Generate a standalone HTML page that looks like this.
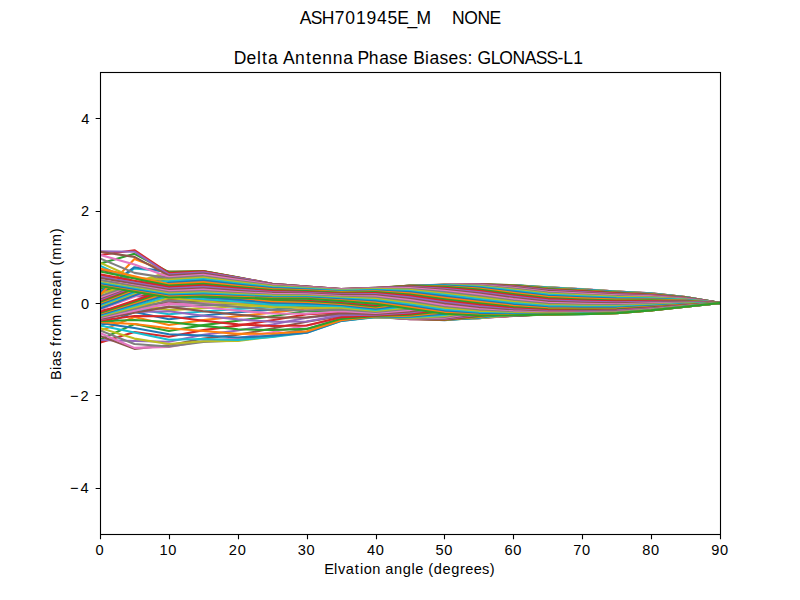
<!DOCTYPE html>
<html><head><meta charset="utf-8"><style>html,body{margin:0;padding:0;background:#fff}svg{display:block}text{font-family:"Liberation Sans",sans-serif;white-space:pre}</style></head>
<body><svg width="800" height="600" viewBox="0 0 800 600">
<rect width="800" height="600" fill="#fff"/><defs><clipPath id="ax"><rect x="100" y="72" width="620.5" height="462.5"/></clipPath></defs><g clip-path="url(#ax)" fill="none" stroke-width="2.08" stroke-linejoin="round" stroke-linecap="square"><polyline points="100.00,286.00 134.44,291.72 168.89,297.44 203.33,296.53 237.78,297.67 272.22,298.70 306.67,298.83 341.11,301.00 375.56,303.83 410.00,308.76 444.44,313.74 478.89,315.57 513.33,315.41 547.78,314.54 582.22,314.09 616.67,313.16 651.11,310.39 685.56,306.70 720.00,303.00" stroke="#1f77b4"/><polyline points="100.00,287.80 134.44,293.04 168.89,298.29 203.33,297.45 237.78,298.39 272.22,299.35 306.67,299.45 341.11,301.80 375.56,305.11 410.00,310.09 444.44,314.88 478.89,316.31 513.33,315.70 547.78,314.54 582.22,314.04 616.67,313.12 651.11,310.36 685.56,306.68 720.00,303.00" stroke="#ff7f0e"/><polyline points="100.00,288.00 134.44,293.57 168.89,299.14 203.33,298.37 237.78,299.10 272.22,299.96 306.67,300.04 341.11,302.58 375.56,306.36 410.00,311.37 444.44,315.93 478.89,316.94 513.33,315.88 547.78,314.43 582.22,313.90 616.67,313.00 651.11,310.26 685.56,306.62 720.00,303.00" stroke="#2ca02c"/><polyline points="100.00,290.00 134.44,295.03 168.89,300.06 203.33,299.33 237.78,299.81 272.22,300.56 306.67,300.58 341.11,303.33 375.56,307.59 410.00,312.57 444.44,316.88 478.89,317.45 513.33,315.94 547.78,314.23 582.22,313.66 616.67,312.79 651.11,310.10 685.56,306.53 720.00,303.00" stroke="#d62728"/><polyline points="100.00,290.20 134.44,295.68 168.89,301.15 203.33,300.40 237.78,300.59 272.22,301.19 306.67,301.11 341.11,304.06 375.56,308.79 410.00,313.70 444.44,317.71 478.89,317.84 513.33,315.88 547.78,313.92 582.22,313.34 616.67,312.51 651.11,309.88 685.56,306.40 720.00,303.00" stroke="#9467bd"/><polyline points="100.00,310.30 134.44,306.42 168.89,302.55 203.33,301.70 237.78,301.52 272.22,301.89 306.67,301.64 341.11,304.77 375.56,309.93 410.00,314.74 444.44,318.43 478.89,318.10 513.33,315.70 547.78,313.51 582.22,312.92 616.67,312.15 651.11,309.59 685.56,306.24 720.00,303.00" stroke="#8c564b"/><polyline points="100.00,312.00 134.44,308.20 168.89,304.40 203.33,303.34 237.78,302.70 272.22,302.75 306.67,302.21 341.11,305.47 375.56,311.02 410.00,315.69 444.44,319.02 478.89,318.23 513.33,315.41 547.78,313.01 582.22,312.42 616.67,311.71 651.11,309.25 685.56,306.05 720.00,303.00" stroke="#e377c2"/><polyline points="100.00,315.00 134.44,310.94 168.89,306.88 203.33,305.45 237.78,304.26 272.22,303.84 306.67,302.88 341.11,306.19 375.56,312.04 410.00,316.53 444.44,319.49 478.89,318.23 513.33,315.00 547.78,312.42 582.22,311.83 616.67,311.20 651.11,308.85 685.56,305.82 720.00,303.00" stroke="#7f7f7f"/><polyline points="100.00,318.00 134.44,304.50 168.89,310.15 203.33,308.15 237.78,306.31 272.22,305.29 306.67,303.73 341.11,306.95 375.56,312.99 410.00,317.26 444.44,319.82 478.89,318.10 513.33,314.49 547.78,311.73 582.22,311.17 616.67,310.62 651.11,308.39 685.56,305.56 720.00,303.00" stroke="#bcbd22"/><polyline points="100.00,322.00 134.44,308.60 168.89,314.30 203.33,311.51 237.78,308.97 272.22,307.18 306.67,304.86 341.11,307.80 375.56,313.86 410.00,317.89 444.44,320.03 478.89,317.84 513.33,313.86 547.78,310.97 582.22,310.43 616.67,309.98 651.11,307.89 685.56,305.28 720.00,303.00" stroke="#17becf"/><polyline points="100.00,326.00 134.44,312.00 168.89,319.30 203.33,315.54 237.78,312.30 272.22,309.62 306.67,306.39 341.11,308.77 375.56,314.65 410.00,318.39 444.44,320.09 478.89,317.45 513.33,313.14 547.78,310.13 582.22,309.63 616.67,309.29 651.11,307.34 685.56,304.96 720.00,303.00" stroke="#1f77b4"/><polyline points="100.00,331.00 134.44,317.00 168.89,324.97 203.33,320.15 237.78,316.28 272.22,312.65 306.67,308.41 341.11,309.92 375.56,315.34 410.00,318.77 444.44,320.03 478.89,316.94 513.33,312.32 547.78,309.22 582.22,308.77 616.67,308.53 651.11,306.75 685.56,304.63 720.00,303.00" stroke="#ff7f0e"/><polyline points="100.00,339.67 134.44,324.00 168.89,330.95 203.33,325.12 237.78,320.80 272.22,316.23 306.67,311.00 341.11,311.27 375.56,315.94 410.00,319.03 444.44,319.82 478.89,316.31 513.33,311.40 547.78,308.24 582.22,307.85 616.67,307.74 651.11,306.12 685.56,304.27 720.00,303.00" stroke="#2ca02c"/><polyline points="100.00,342.67 134.44,332.00 168.89,336.72 203.33,330.11 237.78,325.63 272.22,320.24 306.67,314.16 341.11,312.82 375.56,316.43 410.00,319.15 444.44,319.49 478.89,315.57 513.33,310.41 547.78,307.21 582.22,306.89 616.67,306.90 651.11,305.46 685.56,303.90 720.00,303.00" stroke="#d62728"/><polyline points="100.00,340.00 134.44,341.00 168.89,341.68 203.33,334.71 237.78,330.42 272.22,324.47 306.67,317.80 341.11,314.52 375.56,316.82 410.00,319.15 444.44,319.02 478.89,314.71 513.33,309.34 547.78,306.14 582.22,305.88 616.67,306.02 651.11,304.77 685.56,303.50 720.00,303.00" stroke="#9467bd"/><polyline points="100.00,336.00 134.44,348.90 168.89,345.23 203.33,338.48 237.78,334.75 272.22,328.59 306.67,321.70 341.11,316.29 375.56,317.10 410.00,319.03 444.44,318.43 478.89,313.76 513.33,308.20 547.78,305.02 582.22,304.84 616.67,305.12 651.11,304.06 685.56,303.10 720.00,303.00" stroke="#8c564b"/><polyline points="100.00,333.00 134.44,347.90 168.89,346.90 203.33,341.00 237.78,338.18 272.22,332.23 306.67,325.54 341.11,317.99 375.56,317.27 410.00,318.77 444.44,317.71 478.89,312.70 513.33,307.00 547.78,303.87 582.22,303.78 616.67,304.19 651.11,303.33 685.56,302.69 720.00,303.00" stroke="#e377c2"/><polyline points="100.00,330.50 134.44,344.00 168.89,346.48 203.33,341.99 237.78,340.35 272.22,335.02 306.67,328.93 341.11,319.45 375.56,317.32 410.00,318.39 444.44,316.88 478.89,311.56 513.33,305.75 547.78,302.70 582.22,302.70 616.67,303.25 651.11,302.59 685.56,302.27 720.00,303.00" stroke="#7f7f7f"/><polyline points="100.00,328.00 134.44,338.60 168.89,343.99 203.33,341.33 237.78,340.99 272.22,336.66 306.67,331.46 341.11,320.50 375.56,317.27 410.00,317.89 444.44,315.93 478.89,310.34 513.33,304.46 547.78,301.52 582.22,301.61 616.67,302.31 651.11,301.85 685.56,301.85 720.00,303.00" stroke="#bcbd22"/><polyline points="100.00,325.50 134.44,332.40 168.89,339.77 203.33,339.08 237.78,340.03 272.22,336.94 306.67,332.83 341.11,321.00 375.56,317.10 410.00,317.26 444.44,314.88 478.89,309.05 513.33,303.15 547.78,300.33 582.22,300.53 616.67,301.36 651.11,301.10 685.56,301.42 720.00,303.00" stroke="#17becf"/><polyline points="100.00,323.00 134.44,328.00 168.89,334.31 203.33,335.49 237.78,337.56 272.22,335.83 306.67,332.82 341.11,320.88 375.56,316.82 410.00,316.53 444.44,313.74 478.89,307.69 513.33,301.81 547.78,299.14 582.22,299.45 616.67,300.42 651.11,300.36 685.56,301.00 720.00,303.00" stroke="#1f77b4"/><polyline points="100.00,322.17 134.44,324.00 168.89,328.21 203.33,330.94 237.78,333.87 272.22,333.45 306.67,331.46 341.11,320.14 375.56,316.43 410.00,315.69 444.44,312.51 478.89,306.29 513.33,300.46 547.78,297.97 582.22,298.39 616.67,299.50 651.11,299.63 685.56,300.59 720.00,303.00" stroke="#ff7f0e"/><polyline points="100.00,321.33 134.44,320.00 168.89,322.05 203.33,325.85 237.78,329.33 272.22,330.07 306.67,328.90 341.11,318.85 375.56,315.94 410.00,314.74 444.44,311.20 478.89,304.85 513.33,299.11 547.78,296.82 582.22,297.35 616.67,298.59 651.11,298.92 685.56,300.19 720.00,303.00" stroke="#2ca02c"/><polyline points="100.00,320.50 134.44,316.00 168.89,316.28 203.33,320.66 237.78,324.37 272.22,326.03 306.67,325.48 341.11,317.15 375.56,315.34 410.00,313.70 444.44,309.82 478.89,303.38 513.33,297.77 547.78,295.71 582.22,296.34 616.67,297.72 651.11,298.23 685.56,299.79 720.00,303.00" stroke="#d62728"/><polyline points="100.00,319.67 134.44,312.00 168.89,311.18 203.33,315.69 237.78,319.38 272.22,321.71 306.67,321.57 341.11,315.20 375.56,314.65 410.00,312.57 444.44,308.39 478.89,301.90 513.33,296.45 547.78,294.63 582.22,295.38 616.67,296.88 651.11,297.57 685.56,299.42 720.00,303.00" stroke="#9467bd"/><polyline points="100.00,318.83 134.44,312.85 168.89,306.86 203.33,311.20 237.78,314.69 272.22,317.45 306.67,317.56 341.11,313.17 375.56,313.86 410.00,311.37 444.44,306.91 478.89,300.41 513.33,295.17 547.78,293.60 582.22,294.46 616.67,296.08 651.11,296.94 685.56,299.06 720.00,303.00" stroke="#8c564b"/><polyline points="100.00,318.00 134.44,310.65 168.89,303.31 203.33,307.30 237.78,310.51 272.22,313.49 306.67,313.78 341.11,311.20 375.56,312.99 410.00,310.09 444.44,305.40 478.89,298.92 513.33,293.92 547.78,292.62 582.22,293.60 616.67,295.33 651.11,296.35 685.56,298.73 720.00,303.00" stroke="#e377c2"/><polyline points="100.00,317.14 134.44,308.77 168.89,300.40 203.33,304.00 237.78,306.93 272.22,310.02 306.67,310.43 341.11,309.38 375.56,312.04 410.00,308.76 444.44,303.86 478.89,297.45 513.33,292.72 547.78,291.71 582.22,292.79 616.67,294.63 651.11,295.80 685.56,298.41 720.00,303.00" stroke="#7f7f7f"/><polyline points="100.00,316.29 134.44,307.13 168.89,297.98 203.33,301.25 237.78,303.94 272.22,307.09 306.67,307.61 341.11,307.76 375.56,311.02 410.00,307.38 444.44,302.31 478.89,296.01 513.33,291.58 547.78,290.87 582.22,292.06 616.67,293.99 651.11,295.30 685.56,298.13 720.00,303.00" stroke="#bcbd22"/><polyline points="100.00,315.43 134.44,305.67 168.89,295.91 203.33,298.94 237.78,301.49 272.22,304.68 306.67,305.32 341.11,306.32 375.56,309.93 410.00,305.96 444.44,300.76 478.89,294.61 513.33,290.51 547.78,290.11 582.22,291.40 616.67,293.41 651.11,294.84 685.56,297.87 720.00,303.00" stroke="#17becf"/><polyline points="100.00,314.57 134.44,304.30 168.89,294.04 203.33,296.96 237.78,299.46 272.22,302.73 306.67,303.49 341.11,305.06 375.56,308.79 410.00,304.51 444.44,299.22 478.89,293.26 513.33,289.52 547.78,289.43 582.22,290.81 616.67,292.90 651.11,294.44 685.56,297.64 720.00,303.00" stroke="#1f77b4"/><polyline points="100.00,313.71 134.44,303.00 168.89,292.28 203.33,295.19 237.78,297.74 272.22,301.14 306.67,302.01 341.11,303.94 375.56,307.59 410.00,303.04 444.44,297.70 478.89,291.97 513.33,288.60 547.78,288.83 582.22,290.31 616.67,292.47 651.11,294.10 685.56,297.45 720.00,303.00" stroke="#ff7f0e"/><polyline points="100.00,312.86 134.44,301.72 168.89,290.58 203.33,293.54 237.78,296.22 272.22,299.80 306.67,300.80 341.11,302.90 375.56,306.36 410.00,301.57 444.44,296.22 478.89,290.75 513.33,287.78 547.78,288.33 582.22,289.89 616.67,292.10 651.11,293.81 685.56,297.29 720.00,303.00" stroke="#2ca02c"/><polyline points="100.00,312.00 134.44,300.44 168.89,288.89 203.33,291.96 237.78,294.83 272.22,298.64 306.67,299.74 341.11,301.92 375.56,305.11 410.00,300.11 444.44,294.79 478.89,289.60 513.33,287.06 547.78,287.92 582.22,289.57 616.67,291.82 651.11,293.59 685.56,297.16 720.00,303.00" stroke="#d62728"/><polyline points="100.00,276.00 134.44,281.60 168.89,287.21 203.33,290.39 237.78,293.50 272.22,297.58 306.67,298.78 341.11,300.97 375.56,303.83 410.00,298.66 444.44,293.41 478.89,288.55 513.33,286.43 547.78,287.62 582.22,289.33 616.67,291.61 651.11,293.43 685.56,297.07 720.00,303.00" stroke="#9467bd"/><polyline points="100.00,269.80 134.44,277.67 168.89,285.54 203.33,288.82 237.78,292.19 272.22,296.57 306.67,297.85 341.11,300.04 375.56,302.54 410.00,297.24 444.44,292.10 478.89,287.59 513.33,285.92 547.78,287.41 582.22,289.19 616.67,291.49 651.11,293.33 685.56,297.01 720.00,303.00" stroke="#8c564b"/><polyline points="100.00,309.71 134.44,296.81 168.89,283.90 203.33,287.24 237.78,290.89 272.22,295.58 306.67,296.95 341.11,299.11 375.56,301.25 410.00,295.85 444.44,290.87 478.89,286.74 513.33,285.51 547.78,287.30 582.22,289.14 616.67,291.45 651.11,293.30 685.56,296.99 720.00,303.00" stroke="#e377c2"/><polyline points="100.00,307.43 134.44,294.86 168.89,282.29 203.33,285.66 237.78,289.60 272.22,294.59 306.67,296.04 341.11,298.18 375.56,299.97 410.00,294.52 444.44,289.73 478.89,285.99 513.33,285.22 547.78,287.30 582.22,289.19 616.67,291.49 651.11,293.33 685.56,297.01 720.00,303.00" stroke="#7f7f7f"/><polyline points="100.00,306.33 134.44,293.54 168.89,280.74 203.33,284.08 237.78,288.30 272.22,293.59 306.67,295.14 341.11,297.27 375.56,298.71 410.00,293.25 444.44,288.68 478.89,285.36 513.33,285.04 547.78,287.41 582.22,289.33 616.67,291.61 651.11,293.43 685.56,297.07 720.00,303.00" stroke="#bcbd22"/><polyline points="100.00,305.14 134.44,292.21 168.89,279.27 203.33,282.52 237.78,287.02 272.22,292.60 306.67,294.24 341.11,296.37 375.56,297.48 410.00,292.04 444.44,287.74 478.89,284.85 513.33,284.98 547.78,287.62 582.22,289.57 616.67,291.82 651.11,293.59 685.56,297.16 720.00,303.00" stroke="#17becf"/><polyline points="100.00,304.07 134.44,290.98 168.89,277.90 203.33,281.01 237.78,285.77 272.22,291.61 306.67,293.35 341.11,295.48 375.56,296.29 410.00,290.91 444.44,286.90 478.89,284.46 513.33,285.04 547.78,287.92 582.22,289.89 616.67,292.10 651.11,293.81 685.56,297.29 720.00,303.00" stroke="#1f77b4"/><polyline points="100.00,302.86 134.44,289.74 168.89,276.63 203.33,279.55 237.78,284.56 272.22,290.64 306.67,292.48 341.11,294.63 375.56,295.15 410.00,289.87 444.44,286.19 478.89,284.20 513.33,285.22 547.78,288.33 582.22,290.31 616.67,292.47 651.11,294.10 685.56,297.45 720.00,303.00" stroke="#ff7f0e"/><polyline points="100.00,301.80 134.44,288.64 168.89,275.49 203.33,278.17 237.78,283.40 272.22,289.70 306.67,291.64 341.11,293.82 375.56,294.06 410.00,288.93 444.44,285.59 478.89,284.07 513.33,285.51 547.78,288.83 582.22,290.81 616.67,292.90 651.11,294.44 685.56,297.64 720.00,303.00" stroke="#2ca02c"/><polyline points="100.00,300.57 134.44,287.53 168.89,274.48 203.33,276.87 237.78,282.32 272.22,288.79 306.67,290.84 341.11,293.05 375.56,293.04 410.00,288.08 444.44,285.13 478.89,284.07 513.33,285.92 547.78,289.43 582.22,291.40 616.67,293.41 651.11,294.84 685.56,297.87 720.00,303.00" stroke="#d62728"/><polyline points="100.00,299.53 134.44,286.58 168.89,273.62 203.33,275.69 237.78,281.32 272.22,287.93 306.67,290.09 341.11,292.33 375.56,292.08 410.00,287.35 444.44,284.79 478.89,284.20 513.33,286.43 547.78,290.11 582.22,292.06 616.67,293.99 651.11,295.30 685.56,298.13 720.00,303.00" stroke="#9467bd"/><polyline points="100.00,298.29 134.44,285.60 168.89,272.91 203.33,274.62 237.78,280.42 272.22,287.14 306.67,289.39 341.11,291.66 375.56,291.21 410.00,286.73 444.44,284.59 478.89,284.46 513.33,287.06 547.78,290.87 582.22,292.79 616.67,294.63 651.11,295.80 685.56,298.41 720.00,303.00" stroke="#8c564b"/><polyline points="100.00,297.27 134.44,284.81 168.89,272.35 203.33,273.68 237.78,279.62 272.22,286.41 306.67,288.77 341.11,291.07 375.56,290.43 410.00,286.22 444.44,284.52 478.89,284.85 513.33,287.78 547.78,291.71 582.22,293.60 616.67,295.33 651.11,296.35 685.56,298.73 720.00,303.00" stroke="#e377c2"/><polyline points="100.00,296.00 134.44,283.98 168.89,271.95 203.33,272.88 237.78,278.93 272.22,285.75 306.67,288.21 341.11,290.54 375.56,289.73 410.00,285.84 444.44,284.59 478.89,285.36 513.33,288.60 547.78,292.62 582.22,294.46 616.67,296.08 651.11,296.94 685.56,299.06 720.00,303.00" stroke="#7f7f7f"/><polyline points="100.00,294.00 134.44,282.85 168.89,271.71 203.33,272.22 237.78,278.37 272.22,285.18 306.67,287.73 341.11,290.08 375.56,289.14 410.00,285.59 444.44,284.79 478.89,285.99 513.33,289.52 547.78,293.60 582.22,295.38 616.67,296.88 651.11,297.57 685.56,299.42 720.00,303.00" stroke="#bcbd22"/><polyline points="100.00,292.00 134.44,268.50 168.89,271.61 203.33,271.72 237.78,277.93 272.22,284.70 306.67,287.33 341.11,289.71 375.56,288.65 410.00,285.46 444.44,285.13 478.89,286.74 513.33,290.51 547.78,294.63 582.22,296.34 616.67,297.72 651.11,298.23 685.56,299.79 720.00,303.00" stroke="#17becf"/><polyline points="100.00,292.60 134.44,267.20 168.89,271.67 203.33,271.37 237.78,277.62 272.22,284.31 306.67,287.02 341.11,289.41 375.56,288.26 410.00,285.46 444.44,285.59 478.89,287.59 513.33,291.58 547.78,295.71 582.22,297.35 616.67,298.59 651.11,298.92 685.56,300.19 720.00,303.00" stroke="#1f77b4"/><polyline points="100.00,295.00 134.44,259.00 168.89,271.86 203.33,271.17 237.78,277.43 272.22,284.02 306.67,286.78 341.11,289.19 375.56,287.98 410.00,285.59 444.44,286.19 478.89,288.55 513.33,292.72 547.78,296.82 582.22,298.39 616.67,299.50 651.11,299.63 685.56,300.59 720.00,303.00" stroke="#ff7f0e"/><polyline points="100.00,263.60 134.44,253.80 168.89,272.19 203.33,271.11 237.78,277.38 272.22,283.82 306.67,286.63 341.11,289.05 375.56,287.81 410.00,285.84 444.44,286.90 478.89,289.60 513.33,293.92 547.78,297.97 582.22,299.45 616.67,300.42 651.11,300.36 685.56,301.00 720.00,303.00" stroke="#2ca02c"/><polyline points="100.00,255.00 134.44,250.20 168.89,273.11 203.33,271.21 237.78,277.45 272.22,283.72 306.67,286.56 341.11,289.00 375.56,287.75 410.00,286.22 444.44,287.74 478.89,290.75 513.33,295.17 547.78,299.14 582.22,300.53 616.67,301.36 651.11,301.10 685.56,301.42 720.00,303.00" stroke="#d62728"/><polyline points="100.00,251.20 134.44,251.70 168.89,274.31 203.33,272.25 237.78,277.71 272.22,283.71 306.67,286.57 341.11,289.03 375.56,287.81 410.00,286.73 444.44,288.68 478.89,291.97 513.33,296.45 547.78,300.33 582.22,301.61 616.67,302.31 651.11,301.85 685.56,301.85 720.00,303.00" stroke="#9467bd"/><polyline points="100.00,251.80 134.44,256.90 168.89,275.59 203.33,273.47 237.78,278.71 272.22,283.97 306.67,286.65 341.11,289.13 375.56,287.98 410.00,287.35 444.44,289.73 478.89,293.26 513.33,297.77 547.78,301.52 582.22,302.70 616.67,303.25 651.11,302.59 685.56,302.27 720.00,303.00" stroke="#8c564b"/><polyline points="100.00,254.80 134.44,264.60 168.89,276.92 203.33,274.78 237.78,279.78 272.22,284.69 306.67,287.00 341.11,289.40 375.56,288.26 410.00,288.08 444.44,290.87 478.89,294.61 513.33,299.11 547.78,302.70 582.22,303.78 616.67,304.19 651.11,303.33 685.56,302.69 720.00,303.00" stroke="#e377c2"/><polyline points="100.00,258.40 134.44,272.90 168.89,278.31 203.33,276.16 237.78,280.92 272.22,285.47 306.67,287.59 341.11,289.81 375.56,288.65 410.00,288.93 444.44,292.10 478.89,296.01 513.33,300.46 547.78,303.87 582.22,304.84 616.67,305.12 651.11,304.06 685.56,303.10 720.00,303.00" stroke="#7f7f7f"/><polyline points="100.00,262.60 134.44,278.00 168.89,279.74 203.33,277.60 237.78,282.10 272.22,286.31 306.67,288.22 341.11,290.29 375.56,289.14 410.00,289.87 444.44,293.41 478.89,297.45 513.33,301.81 547.78,305.02 582.22,305.88 616.67,306.02 651.11,304.77 685.56,303.50 720.00,303.00" stroke="#bcbd22"/><polyline points="100.00,265.70 134.44,282.00 168.89,281.20 203.33,279.08 237.78,283.33 272.22,287.19 306.67,288.90 341.11,290.83 375.56,289.73 410.00,290.91 444.44,294.79 478.89,298.92 513.33,303.15 547.78,306.14 582.22,306.89 616.67,306.90 651.11,305.46 685.56,303.90 720.00,303.00" stroke="#17becf"/><polyline points="100.00,308.60 134.44,295.64 168.89,282.67 203.33,280.60 237.78,284.58 272.22,288.10 306.67,289.62 341.11,291.43 375.56,290.43 410.00,292.04 444.44,296.22 478.89,300.41 513.33,304.46 547.78,307.21 582.22,307.85 616.67,307.74 651.11,306.12 685.56,304.27 720.00,303.00" stroke="#1f77b4"/><polyline points="100.00,268.58 134.44,276.36 168.89,284.15 203.33,282.14 237.78,285.84 272.22,289.05 306.67,290.38 341.11,292.08 375.56,291.21 410.00,293.25 444.44,297.70 478.89,301.90 513.33,305.75 547.78,308.24 582.22,308.77 616.67,308.53 651.11,306.75 685.56,304.63 720.00,303.00" stroke="#ff7f0e"/><polyline points="100.00,271.47 134.44,278.54 168.89,285.61 203.33,283.68 237.78,287.12 272.22,290.01 306.67,291.16 341.11,292.78 375.56,292.08 410.00,294.52 444.44,299.22 478.89,303.38 513.33,307.00 547.78,309.22 582.22,309.63 616.67,309.29 651.11,307.34 685.56,304.96 720.00,303.00" stroke="#2ca02c"/><polyline points="100.00,274.35 134.44,280.70 168.89,287.05 203.33,285.20 237.78,288.38 272.22,290.98 306.67,291.95 341.11,293.52 375.56,293.04 410.00,295.85 444.44,300.76 478.89,304.85 513.33,308.20 547.78,310.13 582.22,310.43 616.67,309.98 651.11,307.89 685.56,305.28 720.00,303.00" stroke="#d62728"/><polyline points="100.00,277.23 134.44,282.85 168.89,288.46 203.33,286.70 237.78,289.62 272.22,291.95 306.67,292.76 341.11,294.29 375.56,294.06 410.00,297.24 444.44,302.31 478.89,306.29 513.33,309.34 547.78,310.97 582.22,311.17 616.67,310.62 651.11,308.39 685.56,305.56 720.00,303.00" stroke="#9467bd"/><polyline points="100.00,278.00 134.44,283.91 168.89,289.82 203.33,288.17 237.78,290.82 272.22,292.91 306.67,293.58 341.11,295.10 375.56,295.15 410.00,298.66 444.44,303.86 478.89,307.69 513.33,310.41 547.78,311.73 582.22,311.83 616.67,311.20 651.11,308.85 685.56,305.82 720.00,303.00" stroke="#8c564b"/><polyline points="100.00,280.00 134.44,285.56 168.89,291.12 203.33,289.58 237.78,291.99 272.22,293.85 306.67,294.39 341.11,295.93 375.56,296.29 410.00,300.11 444.44,305.40 478.89,309.05 513.33,311.40 547.78,312.42 582.22,312.42 616.67,311.71 651.11,309.25 685.56,306.05 720.00,303.00" stroke="#e377c2"/><polyline points="100.00,280.12 134.44,286.24 168.89,292.35 203.33,290.92 237.78,293.10 272.22,294.77 306.67,295.19 341.11,296.77 375.56,297.48 410.00,301.57 444.44,306.91 478.89,310.34 513.33,312.32 547.78,313.01 582.22,312.92 616.67,312.15 651.11,309.59 685.56,306.24 720.00,303.00" stroke="#7f7f7f"/><polyline points="100.00,282.00 134.44,287.76 168.89,293.52 203.33,292.20 237.78,294.15 272.22,295.65 306.67,295.98 341.11,297.62 375.56,298.71 410.00,303.04 444.44,308.39 478.89,311.56 513.33,313.14 547.78,313.51 582.22,313.34 616.67,312.51 651.11,309.88 685.56,306.40 720.00,303.00" stroke="#bcbd22"/><polyline points="100.00,283.00 134.44,288.80 168.89,294.61 203.33,293.40 237.78,295.13 272.22,296.48 306.67,296.74 341.11,298.48 375.56,299.97 410.00,304.51 444.44,309.82 478.89,312.70 513.33,313.86 547.78,313.92 582.22,313.66 616.67,312.79 651.11,310.10 685.56,306.53 720.00,303.00" stroke="#17becf"/><polyline points="100.00,284.00 134.44,289.81 168.89,295.62 203.33,294.52 237.78,296.05 272.22,297.27 306.67,297.48 341.11,299.33 375.56,301.25 410.00,305.96 444.44,311.20 478.89,313.76 513.33,314.49 547.78,314.23 582.22,313.90 616.67,313.00 651.11,310.26 685.56,306.62 720.00,303.00" stroke="#1f77b4"/><polyline points="100.00,285.40 134.44,290.98 168.89,296.56 203.33,295.56 237.78,296.89 272.22,298.01 306.67,298.17 341.11,300.17 375.56,302.54 410.00,307.38 444.44,312.51 478.89,314.71 513.33,315.00 547.78,314.43 582.22,314.04 616.67,313.12 651.11,310.36 685.56,306.68 720.00,303.00" stroke="#ff7f0e"/><polyline points="100.00,286.00 134.44,291.72 168.89,297.44 203.33,296.53 237.78,297.67 272.22,298.70 306.67,298.83 341.11,301.00 375.56,303.83 410.00,308.76 444.44,313.74 478.89,315.57 513.33,315.41 547.78,314.54 582.22,314.09 616.67,313.16 651.11,310.39 685.56,306.70 720.00,303.00" stroke="#2ca02c"/></g><rect x="100.5" y="72.5" width="620.0" height="462.0" fill="none" stroke="#000" stroke-width="1.11" stroke-linejoin="miter"/><path d="M100.50,534.5v4.86 M169.50,534.5v4.86 M238.50,534.5v4.86 M307.50,534.5v4.86 M376.50,534.5v4.86 M444.50,534.5v4.86 M513.50,534.5v4.86 M582.50,534.5v4.86 M651.50,534.5v4.86 M720.50,534.5v4.86 M100.5,488.50h-4.86 M100.5,395.50h-4.86 M100.5,303.50h-4.86 M100.5,211.50h-4.86 M100.5,118.50h-4.86" stroke="#000" stroke-width="1.11"/><g font-family="Liberation Sans, sans-serif" fill="#000"><text x="299.73 310.70 321.74 334.73 345.31 355.89 366.46 377.04 387.62 397.19 407.57 416.48 431.14 436.42 441.71 446.99 451.97 464.25 477.50 489.45" y="24.0" font-size="17.5">ASH701945E_M&#160;&#160;&#160;&#160;NONE</text><text x="233.65 246.61 256.95 262.04 267.96 278.12 283.06 294.98 305.94 311.88 322.26 332.80 343.16 353.33 357.58 368.83 379.20 389.11 398.07 408.25 413.20 425.09 429.58 439.50 448.45 458.39 467.46 472.90 477.62 490.63 499.24 512.49 524.87 535.84 546.39 557.58 563.26 573.18" y="63.75" font-size="17.5">Delta&#160;Antenna&#160;Phase&#160;Biases:&#160;GLONASS-L1</text><text x="324.33 333.89 337.89 345.84 354.84 359.90 363.63 372.27 380.90 385.33 393.98 402.78 411.55 415.31 423.81 428.32 433.80 442.47 451.15 460.03 465.27 473.81 482.10 489.64" y="574.1" font-size="14.6">Elvation&#160;angle&#160;(degrees)</text><text x="95.57" y="555.0" font-size="14.6">0</text><text x="159.41 168.24" y="555.0" font-size="14.6">10</text><text x="228.87 237.70" y="555.0" font-size="14.6">20</text><text x="297.72 306.54" y="555.0" font-size="14.6">30</text><text x="366.99 375.81" y="555.0" font-size="14.6">40</text><text x="435.48 444.31" y="555.0" font-size="14.6">50</text><text x="504.41 513.24" y="555.0" font-size="14.6">60</text><text x="573.19 582.02" y="555.0" font-size="14.6">70</text><text x="642.21 651.04" y="555.0" font-size="14.6">80</text><text x="711.17 720.00" y="555.0" font-size="14.6">90</text><text x="70.01 80.44" y="493.35" font-size="14.6">−4</text><text x="70.01 80.44" y="400.95" font-size="14.6">−2</text><text x="80.99" y="308.55" font-size="14.6">0</text><text x="80.89" y="216.15" font-size="14.6">2</text><text x="81.23" y="123.75" font-size="14.6">4</text><text x="-380.03 -370.10 -366.36 -358.08 -350.64 -345.99 -341.10 -335.88 -326.90 -313.89 -308.97 -295.93 -287.41 -278.76 -270.13 -265.62 -259.80 -246.28 -233.17" y="61.1" font-size="14.6" transform="rotate(-90)">Bias&#160;from&#160;mean&#160;(mm)</text></g>
</svg></body></html>
